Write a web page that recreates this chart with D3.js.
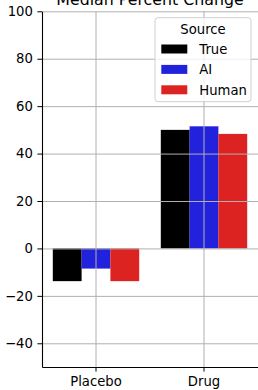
<!DOCTYPE html>
<html>
<head>
<meta charset="utf-8">
<script src="https://d3js.org/d3.v7.min.js"></script>
<style>
  body { margin: 0; background: #fff; }
  text { font-family: "DejaVu Sans", sans-serif; fill: #000; }
</style>
</head>
<body>
<div id="chart"></div>
<script>
// data
const categories = ["Placebo", "Drug"];
const sources = ["True", "AI", "Human"];
const colors = ["#000000", "#2222dd", "#dd2222"];
const trueVals = [-13.8, 50.0];
const aiVals = [-8.5, 51.5];
const humanVals = [-13.8, 48.3];
const yTicks = [-40, -20, 0, 20, 40, 60, 80, 100];

const seriesVals = [trueVals, aiVals, humanVals];

const W = 258, H = 390;
const margin = { left: 42, right: 258, top: 11.3, bottom: 367 };
const fs = 13.2;

const svg = d3.select("#chart").append("svg")
    .attr("width", W)
    .attr("height", H);

const x = d3.scaleBand()
    .domain(categories)
    .range([margin.left, margin.right])
    .paddingInner(0.2)
    .paddingOuter(0.1);

const xs = d3.scaleBand()
    .domain(sources)
    .range([0, x.bandwidth()]);

const y = d3.scaleLinear()
    .domain([-50, 100])
    .range([margin.bottom, margin.top]);

// bars
sources.forEach(function (s, i) {
    svg.append("g")
        .selectAll("rect")
        .data(categories)
        .join("rect")
        .attr("x", d => x(d) + xs(s))
        .attr("width", xs.bandwidth())
        .attr("y", (d, j) => y(Math.max(0, seriesVals[i][j])))
        .attr("height", (d, j) => Math.abs(y(seriesVals[i][j]) - y(0)))
        .attr("fill", colors[i]);
});

// grid on top of bars
svg.append("g")
    .attr("transform", `translate(0,${margin.bottom})`)
    .call(d3.axisBottom(x).tickSize(-(margin.bottom - margin.top)).tickFormat(""))
    .call(g => g.select(".domain").remove())
    .selectAll("line").attr("stroke", "#b0b0b0").attr("stroke-width", 1);

svg.append("g")
    .attr("transform", `translate(${margin.left},0)`)
    .call(d3.axisLeft(y).tickValues(yTicks).tickSize(-(margin.right - margin.left)).tickFormat(""))
    .call(g => g.select(".domain").remove())
    .selectAll("line").attr("stroke", "#b0b0b0").attr("stroke-width", 1);

// axes
const yAxis = svg.append("g")
    .attr("transform", `translate(${margin.left},0)`)
    .call(d3.axisLeft(y).tickValues(yTicks).tickSize(4.6).tickSizeOuter(0).tickPadding(4.6)
        .tickFormat(d => d < 0 ? "\u2212" + Math.abs(d) : d));
yAxis.select(".domain").attr("stroke", "#000").attr("stroke-width", 1.1);
yAxis.selectAll("text").attr("font-size", fs);

const xAxis = svg.append("g")
    .attr("transform", `translate(0,${margin.bottom})`)
    .call(d3.axisBottom(x).tickSize(4.6).tickSizeOuter(0).tickPadding(4.6));
xAxis.select(".domain").attr("stroke", "#000").attr("stroke-width", 1.1);
xAxis.selectAll("text").attr("font-size", fs);

// title
svg.append("text")
    .attr("x", (margin.left + margin.right) / 2)
    .attr("y", 4.5)
    .attr("text-anchor", "middle")
    .attr("font-size", 15.8)
    .text("Median Percent Change");

// legend
const lg = svg.append("g").attr("transform", "translate(155,17.7)");
lg.append("rect")
    .attr("width", 96)
    .attr("height", 84)
    .attr("rx", 3)
    .attr("fill", "#fff")
    .attr("fill-opacity", 0.8)
    .attr("stroke", "#d0d0d0");
lg.append("text")
    .attr("x", 48)
    .attr("y", 16.5)
    .attr("text-anchor", "middle")
    .attr("font-size", fs)
    .text("Source");
sources.forEach(function (s, i) {
    lg.append("rect")
        .attr("x", 6.3)
        .attr("y", 26.8 + i * 20.4)
        .attr("width", 26)
        .attr("height", 9)
        .attr("fill", colors[i]);
    lg.append("text")
        .attr("x", 44.3)
        .attr("y", 36.3 + i * 20.4)
        .attr("font-size", fs)
        .text(s);
});
</script>
</body>
</html>
